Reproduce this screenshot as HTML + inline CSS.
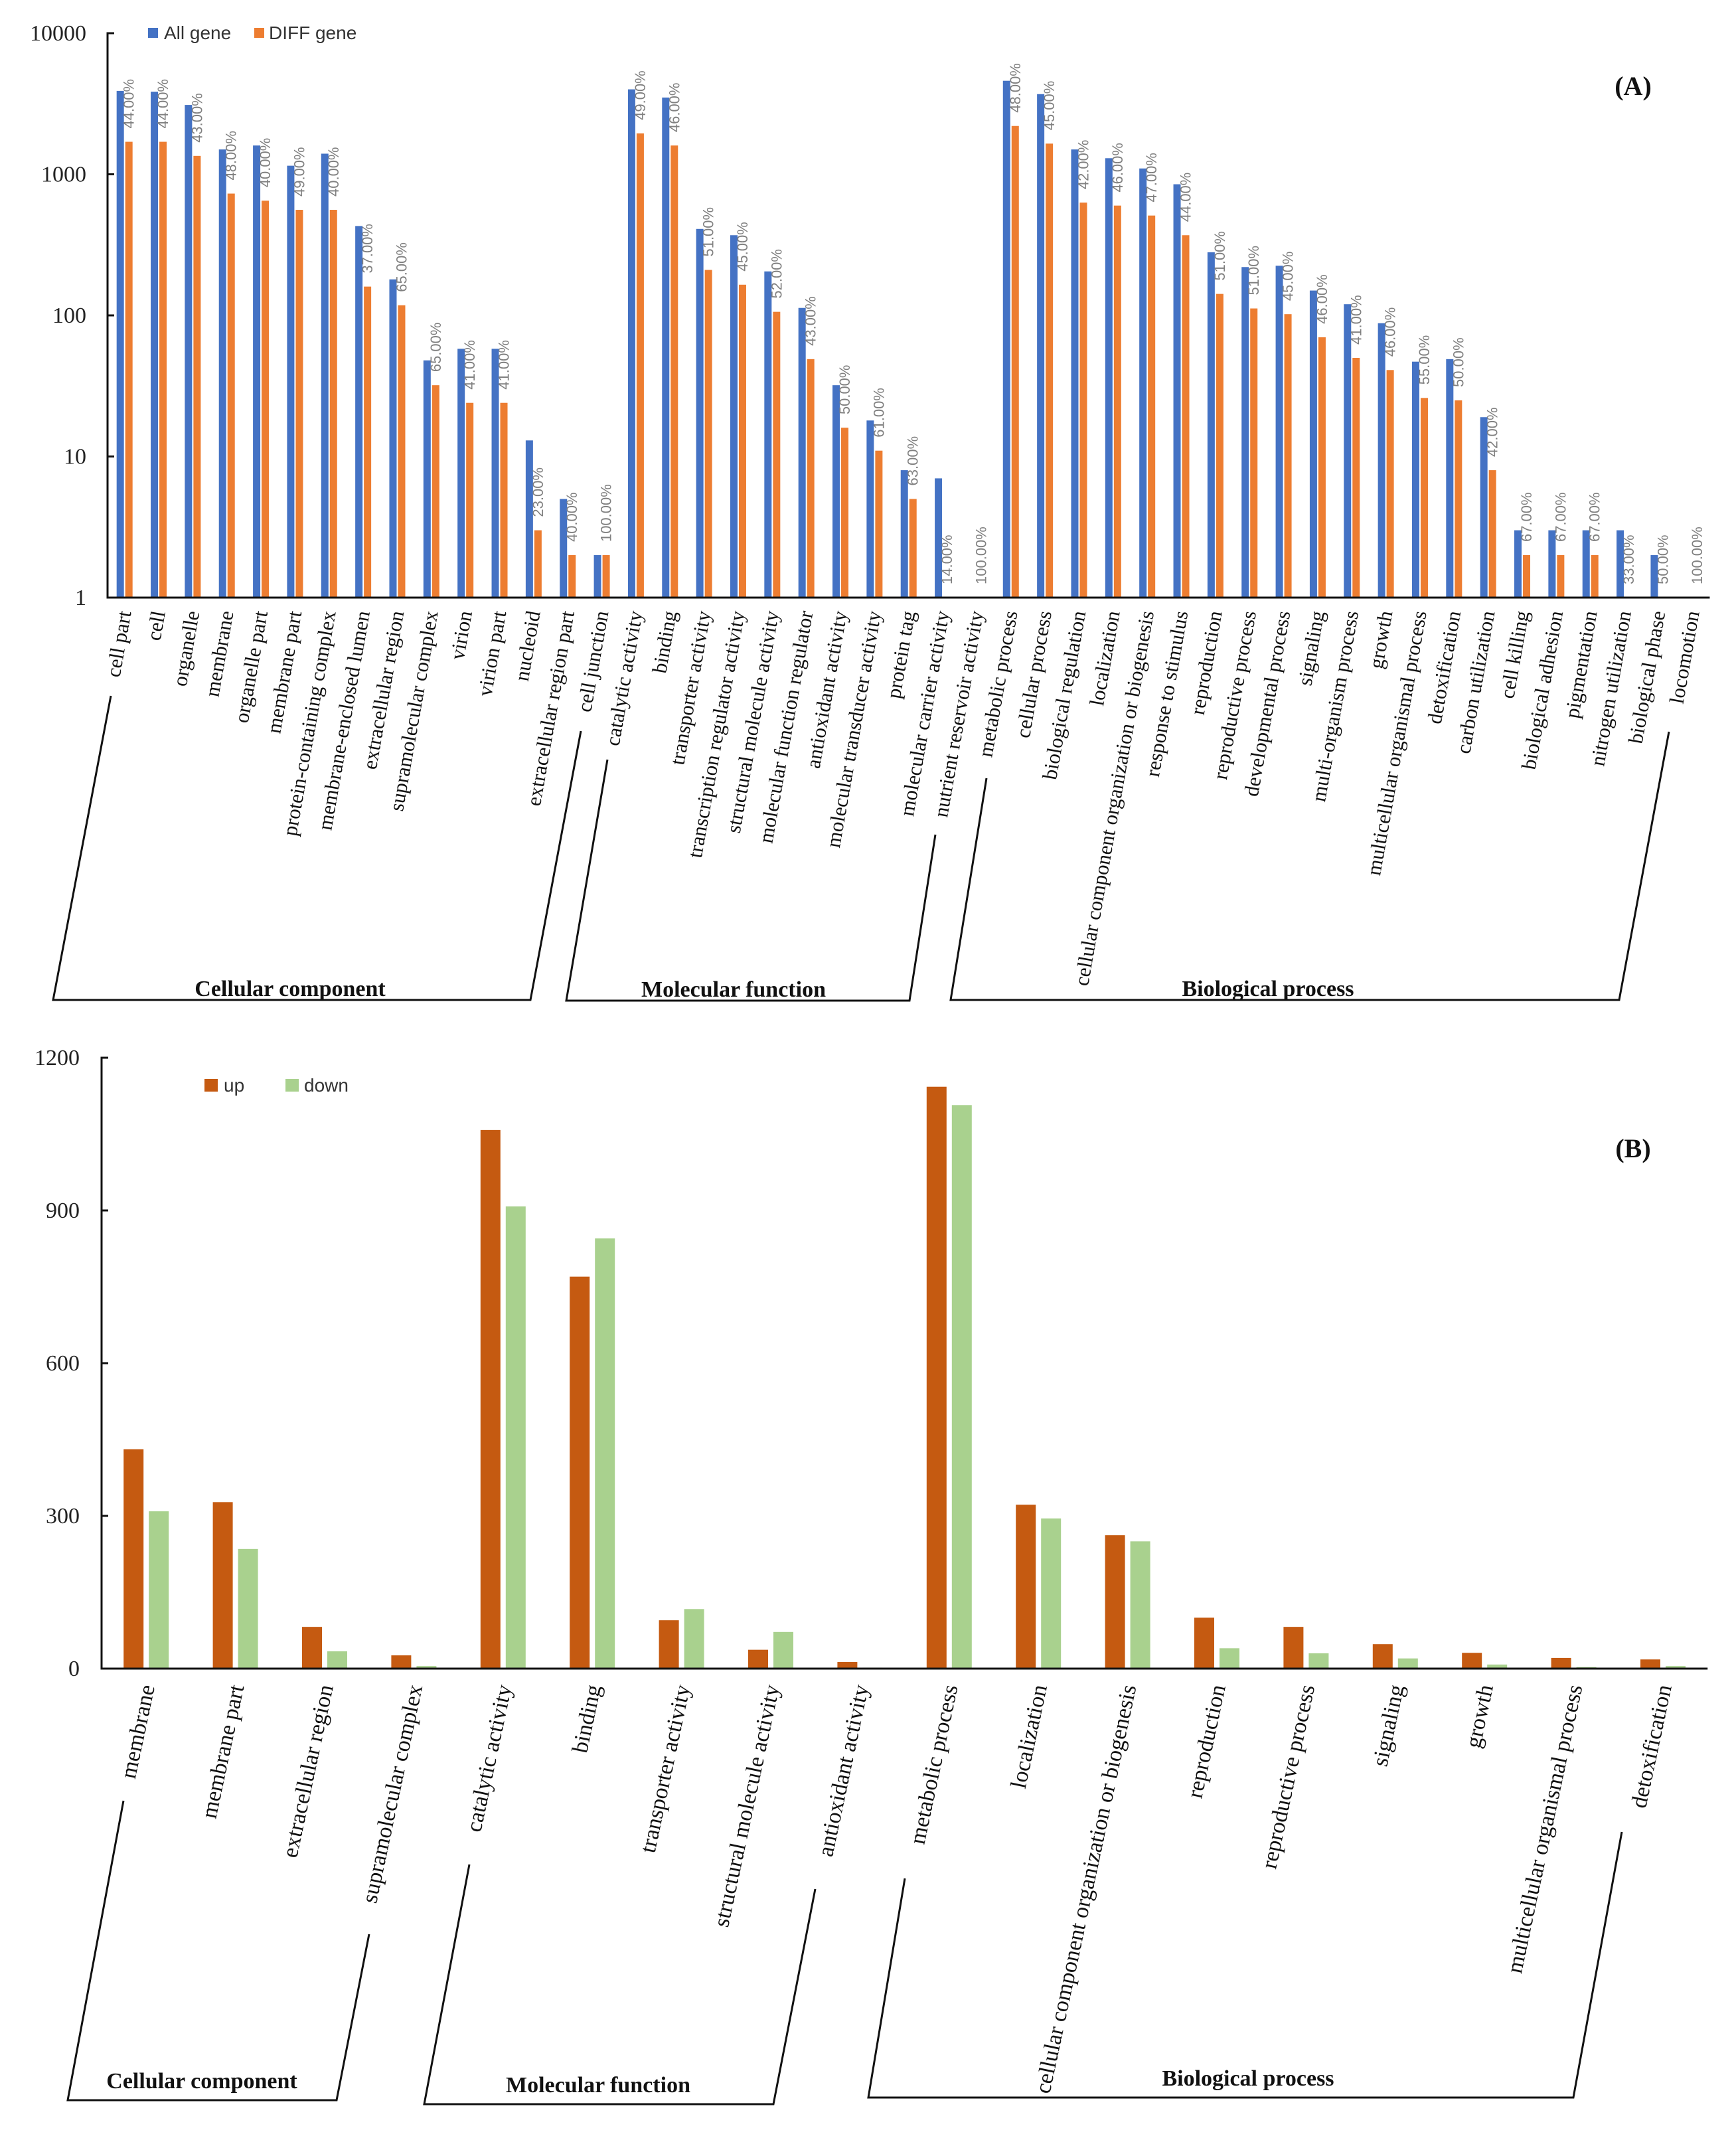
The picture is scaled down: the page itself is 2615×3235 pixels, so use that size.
<!DOCTYPE html>
<html><head><meta charset="utf-8"><style>
html,body{margin:0;padding:0;background:#fff;}
svg{display:block;}
.tick{font-family:"Liberation Serif",serif;font-size:34px;fill:#222;}
.cat{font-family:"Liberation Serif",serif;font-size:31px;fill:#111;}
.pct{font-family:"Liberation Sans",sans-serif;font-size:22px;fill:#808080;}
.leg{font-family:"Liberation Sans",sans-serif;font-size:28px;fill:#333;}
.grp{font-family:"Liberation Serif",serif;font-size:34px;font-weight:bold;fill:#111;}
.panel{font-family:"Liberation Serif",serif;font-size:40px;font-weight:bold;fill:#111;}
</style></head><body>
<svg id="fig" width="2615" height="3235" viewBox="0 0 2615 3235" xmlns="http://www.w3.org/2000/svg">
<rect width="2615" height="3235" fill="#fff"/>
<g id="chartA"></g>
<g id="chartB"></g>
<text class="panel" x="2460" y="143" text-anchor="middle">(A)</text>
<text class="panel" x="2460" y="1743" text-anchor="middle">(B)</text>
<!-- legend A -->
<rect x="223" y="42" width="15" height="15" fill="#4472C4"/>
<text class="leg" x="247" y="59">All gene</text>
<rect x="383" y="42" width="15" height="15" fill="#ED7D31"/>
<text class="leg" x="405" y="59">DIFF gene</text>
<!-- legend B -->
<rect x="308" y="1625" width="20" height="19" fill="#C55A11"/>
<text class="leg" x="337" y="1644">up</text>
<rect x="430" y="1625" width="20" height="19" fill="#A9D18E"/>
<text class="leg" x="458" y="1644">down</text>
<!-- brackets -->
<g fill="none" stroke="#111" stroke-width="3">
<polyline points="167,1048 80,1506 799,1506 875,1101"/>
<polyline points="915,1144 853,1507 1370,1507 1409,1257"/>
<polyline points="1486,1172 1432,1506 2439,1506 2514,1102"/>
<polyline points="186,2712 102,3163 507,3163 556,2913"/>
<polyline points="707,2808 639,3169 1165,3169 1228,2845"/>
<polyline points="1363,2829 1308,3159 2370,3159 2443,2759"/>
</g>
<text class="grp" x="437" y="1500" text-anchor="middle">Cellular component</text>
<text class="grp" x="1105" y="1501" text-anchor="middle">Molecular function</text>
<text class="grp" x="1910" y="1500" text-anchor="middle">Biological process</text>
<text class="grp" x="304" y="3145" text-anchor="middle">Cellular component</text>
<text class="grp" x="901" y="3151" text-anchor="middle">Molecular function</text>
<text class="grp" x="1880" y="3141" text-anchor="middle">Biological process</text>
</svg>
<script>
const catsA = ["cell part","cell","organelle","membrane","organelle part","membrane part","protein-containing complex","membrane-enclosed lumen","extracellular region","supramolecular complex","virion","virion part","nucleoid","extracellular region part","cell junction","catalytic activity","binding","transporter activity","transcription regulator activity","structural molecule activity","molecular function regulator","antioxidant activity","molecular transducer activity","protein tag","molecular carrier activity","nutrient reservoir activity","metabolic process","cellular process","biological regulation","localization","cellular component organization or biogenesis","response to stimulus","reproduction","reproductive process","developmental process","signaling","multi-organism process","growth","multicellular organismal process","detoxification","carbon utilization","cell killing","biological adhesion","pigmentation","nitrogen utilization","biological phase","locomotion"];
const allGene = [3900,3850,3100,1500,1600,1150,1400,430,180,48,58,58,13,5,2,4000,3500,410,370,205,113,32,18,8,7,1,4600,3700,1500,1300,1100,850,280,220,225,150,120,88,47,49,19,3,3,3,3,2,1];
const diffGene = [1700,1700,1350,730,650,560,560,160,118,32,24,24,3,2,2,1950,1600,210,165,106,49,16,11,5,1,1,2200,1650,630,600,510,370,142,112,102,70,50,41,26,25,8,2,2,2,1,1,1];
const pctLabels = ["44.00%","44.00%","43.00%","48.00%","40.00%","49.00%","40.00%","37.00%","65.00%","65.00%","41.00%","41.00%","23.00%","40.00%","100.00%","49.00%","46.00%","51.00%","45.00%","52.00%","43.00%","50.00%","61.00%","63.00%","14.00%","100.00%","48.00%","45.00%","42.00%","46.00%","47.00%","44.00%","51.00%","51.00%","45.00%","46.00%","41.00%","46.00%","55.00%","50.00%","42.00%","67.00%","67.00%","67.00%","33.00%","50.00%","100.00%"];
const ticksA = [1,10,100,1000,10000];

const catsB = ["membrane","membrane part","extracellular region","supramolecular complex","catalytic activity","binding","transporter activity","structural molecule activity","antioxidant activity","metabolic process","localization","cellular component organization or biogenesis","reproduction","reproductive process","signaling","growth","multicellular organismal process","detoxification"];
const upVals = [431,327,82,26,1058,770,95,37,13,1143,322,262,100,82,48,31,21,18];
const downVals = [309,235,34,5,908,845,117,72,2,1107,295,250,40,30,20,8,3,5];
const ticksB = [0,300,600,900,1200];

const NS="http://www.w3.org/2000/svg";
function mk(tag, attrs, parent){const e=document.createElementNS(NS,tag);for(const k in attrs)e.setAttribute(k,attrs[k]);parent.appendChild(e);return e;}

// ---- Chart A (log) ----
const gA=document.getElementById('chartA');
const ax0=162, ay1=900, decade=212.5, cwA=51.35;
const yA=v=>ay1-Math.log10(Math.max(v,1))*decade;
const xA=i=>ax0+(i+0.5)*cwA;
ticksA.forEach(t=>{
  const tk=mk('line',{x1:ax0,x2:ax0+10,y1:yA(t),y2:yA(t),stroke:'#111','stroke-width':3},gA);
  
  
  const tl=mk('text',{x:130,y:yA(t)+11,'text-anchor':'end',class:'tick'},gA);
  tl.textContent=String(t);
  
  
});
catsA.forEach((c,i)=>{
  const cx=xA(i);
  const b=mk('rect',{x:cx-12,y:yA(allGene[i]),width:11,height:ay1-yA(allGene[i]),fill:'#4472C4'},gA);
  
  
  const o=mk('rect',{x:cx+1,y:yA(diffGene[i]),width:11,height:ay1-yA(diffGene[i]),fill:'#ED7D31'},gA);
  
  
  const ly=yA(diffGene[i])-20, lx=cx+14;
  const p=mk('text',{x:lx,y:ly,class:'pct',transform:`rotate(-90 ${lx} ${ly})`},gA);
  p.textContent=pctLabels[i];
  
  
  const tx=cx+10, ty=922;
  const t=mk('text',{x:tx,y:ty,class:'cat','text-anchor':'end',transform:`rotate(-80 ${tx} ${ty})`},gA);
  t.textContent=c;
  
  
});
const axA=mk('path',{d:`M${ax0+10},${yA(10000)} H${ax0} V${ay1} H${ax0+47*cwA}`,fill:'none',stroke:'#111','stroke-width':3},gA);



// ---- Chart B (linear) ----
const gB=document.getElementById('chartB');
const bx0=153, by0=2513, bpx=230/300, cwB=134.4;
const yB=v=>by0-v*bpx;
const xB=i=>bx0+(i+0.5)*cwB;
ticksB.forEach(t=>{
  const tk=mk('line',{x1:bx0,x2:bx0+10,y1:yB(t),y2:yB(t),stroke:'#111','stroke-width':3},gB);
  
  
  const tl=mk('text',{x:120,y:yB(t)+11,'text-anchor':'end',class:'tick'},gB);
  tl.textContent=String(t);
  
  
});
catsB.forEach((c,i)=>{
  const cx=xB(i);
  const u=mk('rect',{x:cx-34,y:yB(upVals[i]),width:30,height:by0-yB(upVals[i]),fill:'#C55A11'},gB);
  
  
  const d=mk('rect',{x:cx+4,y:yB(downVals[i]),width:30,height:by0-yB(downVals[i]),fill:'#A9D18E'},gB);
  
  
  const tx=cx+13, ty=2540;
  const t=mk('text',{x:tx,y:ty,class:'cat','text-anchor':'end',transform:`rotate(-78 ${tx} ${ty})`,style:'font-size:34px'},gB);
  t.textContent=c;
  
  
});
const axB=mk('path',{d:`M${bx0+10},${yB(1200)} H${bx0} V${by0} H${bx0+18*cwB}`,fill:'none',stroke:'#111','stroke-width':3},gB);


</script>
</body></html>
